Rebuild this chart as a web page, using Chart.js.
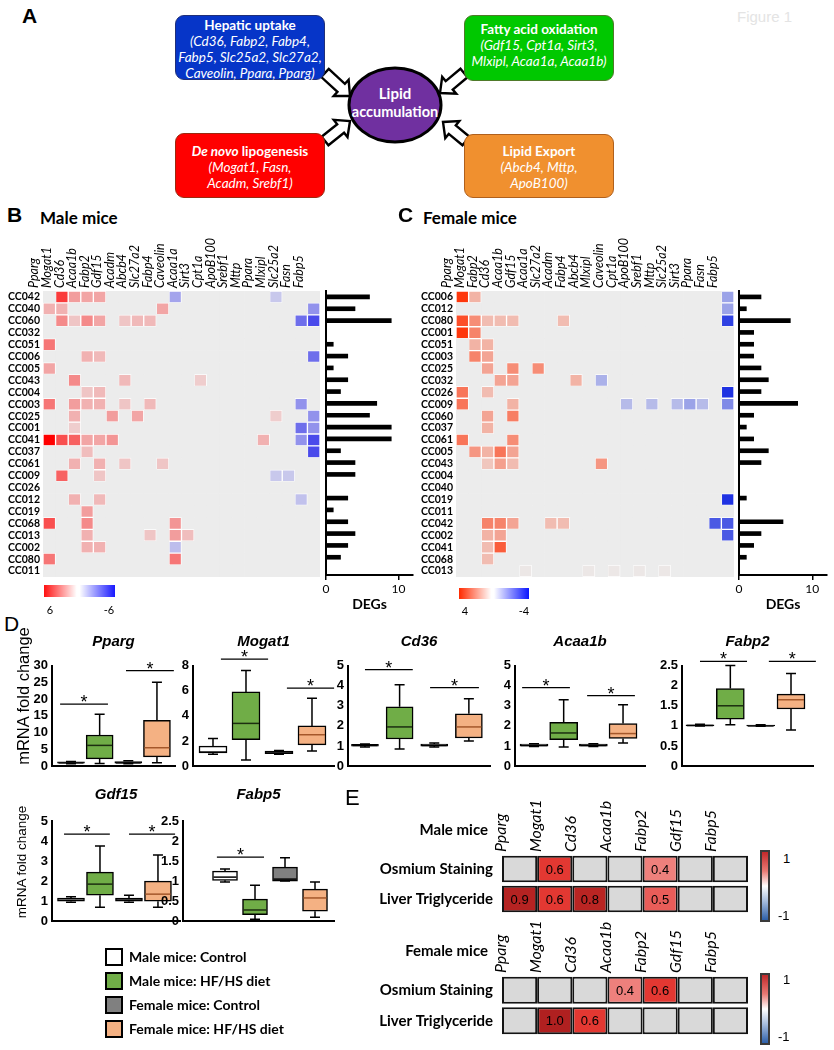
<!DOCTYPE html>
<html><head><meta charset="utf-8">
<script src="https://cdn.jsdelivr.net/npm/chart.js@4.4.1/dist/chart.umd.min.js"></script>
<style>
html,body{margin:0;padding:0;background:#fff;}
#fig{position:relative;width:834px;height:1050px;overflow:hidden;font-family:Lato,'Liberation Sans',sans-serif;color:#000;background:#fff;}
canvas{position:absolute;}
.t{position:absolute;white-space:nowrap;line-height:1;z-index:3;}
.box{position:absolute;border-radius:9px;color:#fff;text-align:center;box-sizing:border-box;font-size:13.5px;line-height:16px;font-family:Lato,sans-serif;z-index:2;}
.box i{font-style:italic;}
.cbar{position:absolute;box-sizing:border-box;z-index:2;}
.leg{position:absolute;width:18px;height:18px;box-sizing:border-box;border:2px solid #000;z-index:2;}
</style></head>
<body><div id="fig">
<svg id="diag" width="834" height="200" style="position:absolute;left:0;top:0;z-index:1"></svg>
</div>
<script>
// ---------------- DATA ----------------
const maleGenes = ['Pparg','Mogat1','Cd36','Acaa1b','Fabp2','Gdf15','Acadm','Abcb4','Slc27a2','Fabp4','Caveolin','Acaa1a','Sirt3','Cpt1a','ApoB100','Srebf1','Mttp','Ppara','Mlxipl','Slc25a2','Fasn','Fabp5'];
const maleRows = ['CC042','CC040','CC060','CC032','CC051','CC006','CC005','CC043','CC004','CC003','CC025','CC001','CC041','CC037','CC061','CC009','CC026','CC012','CC019','CC068','CC013','CC002','CC080','CC011'];
const maleValues = [
 [0,4.5,2,1.8,1.8,0,0,0,0,0,-2,0,0,0,0,0,0,0,-1,0,0,0],
 [1.5,1.5,0,0,0,0,0,0,0,1.8,0,0,0,0,0,0,0,0,0,0,0,-2.5],
 [0,2.5,1,2.5,1.8,0,1,1.3,1.3,0,0,0,0,0,0,0,0,0,0,0,-3.5,-4.5],
 [0,0,0,0,0,0,0,0,0,0,0,0,0,0,0,0,0,0,0,0,0,0],
 [3,0,0,0,0,0,0,0,0,0,0,0,0,0,0,0,0,0,0,0,0,0],
 [0,0,0,1.5,1.3,0,0,0,0,0,0,0,0,0,0,0,0,0,0,0,0,-3.5],
 [1.8,0,0,0,0,0,0,0,0,0,0,0,0,0,0,0,0,0,0,0,0,0],
 [0,0,2.5,0,0,0,1.3,0,0,0,0,0,0.8,0,0,0,0,0,0,0,0,0],
 [0,0,0,1,1.3,0,0,0,0,0,0,0,0,0,0,0,0,0,0,0,0,0],
 [3,0,2,1.5,1.5,0,1,0,1.3,0,0,0,0,0,0,0,0,0,0,0,-2.5,0],
 [0,0,1.5,0,0,2,0,1.8,0,0,0,0,0,0,0,0,0,0,0.8,0,0,-2.5],
 [0,0,0.8,0,0,0,0,0,0,0,0,0,0,0,0,0,0,0,0,0,-3.5,-2.5],
 [6,4,3.5,1.8,1.8,2.2,0,0,0,0,0,0,0,0,0,0,0,1.5,0,0,-2.5,-4.5],
 [0,0,0,1.2,0,0,0,0,0,0,0,0,0,0,0,0,0,0,0,0,0,-4.5],
 [0,0,1.5,0,1.5,0,1,0,0,1,0,0,0,0,0,0,0,0,0,0,0,0],
 [0,3.5,0,0,1,0,0,0,0,0,0,0,0,0,0,0,0,0,-1,-1,0,0],
 [0,0,0,0,0,0,0,0,0,0,0,0,0,0,0,0,0,0,0,0,0,0],
 [0,0,1.5,0,1.3,0,0,0,0,0,0,0,0,0,0,0,0,0,0,0,-1.2,0],
 [0,0,0,2,0,0,0,0,0,0,0,0,0,0,0,0,0,0,0,0,0,0],
 [4,0,0,2.5,0,0,0,0,0,0,2.2,0,0,0,0,0,0,0,0,0,0,0],
 [0,0,0,1.5,0,0,0,0,1,0,2,1.2,0,0,0,0,0,0,0,0,0,0],
 [0,0,0,1.5,1.5,0,0,0,0,0,-1.3,0,0,0,0,0,0,0,0,0,0,0],
 [3,0,0,0,0,0,0,0,0,0,3,0,0,0,0,0,0,0,0,0,0,0],
 [0,0,0,0,0,0,0,0,0,0,0,0,0,0,0,0,0,0,0,0,0,0]
];
const maleDEGs = [6,4,9,0,1,3,1,3,2,7,6,9,9,2,4,4,0,3,1,3,4,3,2,0];

const femaleGenes = ['Pparg','Mogat1','Fabp2','Cd36','Acaa1b','Gdf15','Acaa1a','Slc27a2','Acadm','Fabp4','Abcb4','Mlxipl','Caveolin','Cpt1a','ApoB100','Srebf1','Mttp','Slc25a2','Sirt3','Ppara','Fasn','Fabp5'];
const femaleRows = ['CC006','CC012','CC080','CC001','CC051','CC003','CC025','CC032','CC026','CC009','CC060','CC037','CC061','CC005','CC043','CC004','CC040','CC019','CC011','CC042','CC002','CC041','CC068','CC013'];
const femaleValues = [
 [3.8,1.2,0,0,0,0,0,0,0,0,0,0,0,0,0,0,0,0,0,0,0,-1.5],
 [0,0,0,0,0,0,0,0,0,0,0,0,0,0,0,0,0,0,0,0,0,-1.5],
 [3.3,2,1,1,1,0,0,0,1,0,0,0,0,0,0,0,0,0,0,0,0,-3.5],
 [3.8,2.2,0,0,0,0,0,0,0,0,0,0,0,0,0,0,0,0,0,0,0,0],
 [0,1.2,1.2,0,0,0,0,0,0,0,0,0,0,0,0,0,0,0,0,0,0,0],
 [0,2.2,1.5,0,0,0,0,0,0,0,0,0,0,0,0,0,0,0,0,0,0,0],
 [0,0,1.5,0,2,0,2,0,0,0,0,0,0,0,0,0,0,0,0,0,0,0],
 [0,0,0,1.5,1.5,0,0,0,0,1.2,0,-1.2,0,0,0,0,0,0,0,0,0,0],
 [2.5,0,1,0,0,0,0,0,0,0,0,0,0,0,0,0,0,0,0,0,0,-3.8],
 [2.5,0,0,0,1.2,0,0,0,0,0,0,0,0,-1,0,-1,0,-1,-1.5,-1,0,-2],
 [0,0,1.5,0,2.3,0,0,0,0,0,0,0,0,0,0,0,0,0,0,0,0,0],
 [0,0,1.2,0,0,0,0,0,0,0,0,0,0,0,0,0,0,0,0,0,0,0],
 [2.5,0,0,0,2,0,0,0,0,0,0,0,0,0,0,0,0,0,0,0,0,0],
 [0,1.8,1.2,2.5,1.5,0,0,0,0,0,0,0,0,0,0,0,0,0,0,0,0,0],
 [0,0,0.8,1.6,1,0,0,0,0,0,0,1.8,0,0,0,0,0,0,0,0,0,0],
 [0,0,0,0,0,0,0,0,0,0,0,0,0,0,0,0,0,0,0,0,0,0],
 [0,0,0,0,0,0,0,0,0,0,0,0,0,0,0,0,0,0,0,0,0,0],
 [0,0,0,0,0,0,0,0,0,0,0,0,0,0,0,0,0,0,0,0,0,-3.8],
 [0,0,0,0,0,0,0,0,0,0,0,0,0,0,0,0,0,0,0,0,0,0],
 [0,0,2.2,2.2,1.5,0,0,1,1,0,0,0,0,0,0,0,0,0,0,0,-3,-3],
 [0,0,1.2,1.5,0,0,0,0,0,0,0,0,0,0,0,0,0,0,0,0,0,-3],
 [0,0,1,3,0,0,0,0,0,0,0,0,0,0,0,0,0,0,0,0,0,0],
 [0,0,1,0,0,0,0,0,0,0,0,0,0,0,0,0,0,0,0,0,0,0],
 [0,0,0,0,0,0.1,0,0,0,0,0.1,0,0.1,0,0.1,0,0.1,0,0,0,0,0]
];
const femaleDEGs = [3,1,7,2,2,2,3,4,3,8,2,1,2,4,3,0,0,1,0,6,3,2,1,0];
const degTicks = [0,10];

// Panel D: [min, q1, median, q3, max] per group
const groupNames = ['Male mice: Control','Male mice: HF/HS diet','Female mice: Control','Female mice: HF/HS diet'];
const groupX = [1,2,3,4];
const ppargStats  = [[0.7,0.9,1.0,1.3,1.4],[0.8,2.2,6.2,9.3,15.5],[0.7,0.9,1.0,1.4,1.6],[1.0,2.8,5.5,13.7,25]];
const mogat1Stats = [[0.95,1.05,1.12,1.6,2.2],[0.5,2.1,3.4,5.9,7.6],[0.95,1.0,1.05,1.2,1.25],[1.2,1.7,2.5,3.2,5.4]];
const cd36Stats   = [[0.95,1.0,1.03,1.08,1.1],[0.85,1.35,1.95,2.95,4.05],[0.95,1.0,1.03,1.1,1.15],[1.25,1.4,1.95,2.6,3.35]];
const acaa1bStats = [[0.98,1.0,1.03,1.1,1.12],[0.95,1.32,1.65,2.18,3.3],[0.98,1.0,1.03,1.1,1.12],[1.15,1.38,1.62,2.12,3.05]];
const fabp2Stats  = [[1.0,1.0,1.01,1.03,1.04],[1.03,1.17,1.5,1.93,2.5],[0.99,1.0,1.0,1.02,1.03],[0.9,1.42,1.65,1.79,2.3]];
const gdf15Stats  = [[0.95,1.0,1.05,1.15,1.22],[0.7,1.3,1.85,2.45,3.75],[0.95,1.0,1.05,1.15,1.3],[0.7,1.0,1.35,2.0,3.3]];
const fabp5Stats  = [[0.98,1.02,1.1,1.25,1.3],[0.05,0.16,0.28,0.55,0.9],[1.0,1.0,1.05,1.35,1.58],[0.1,0.25,0.58,0.8,0.98]];
// y tick labels
const ppargTicks = [0,5,10,15,20,25,30];
const mogat1Ticks = [0,2,4,6,8];
const fiveTicks = [0,1,2,3,4,5];
const halfTicks = [0,0.5,1,1.5,2,2.5];
// significance bars: [fromX, toX, y]
const ppargSig  = [[0.62,2.29,18.5],[2.92,4.59,28.5]];
const mogat1Sig = [[1.24,2.67,8.5],[3.24,4.67,6.2]];
const cd36Sig   = [[1.0,2.38,4.8],[2.88,4.29,3.9]];
const acaa1bSig = [[0.6,2.21,3.9],[2.79,4.4,3.5]];
const fabp2Sig  = [[1.0,2.55,2.6],[3.27,4.82,2.6]];
const gdf15Sig  = [[0.76,2.34,4.35],[3.0,4.59,4.35]];
const fabp5Sig  = [[0.73,2.3,1.6]];

// Panel E
const corrGenes = ['Pparg','Mogat1','Cd36','Acaa1b','Fabp2','Gdf15','Fabp5'];
const corrRows = ['Osmium Staining','Liver Triglyceride'];
const maleCorr = [[null,0.6,null,null,0.4,null,null],[0.9,0.6,0.8,null,0.5,null,null]];
const femaleCorr = [[null,null,null,0.4,0.6,null,null],[null,1.0,0.6,null,null,null,null]];

// ---------------- STYLE HELPERS ----------------
Chart.defaults.font.family = "Lato, 'Liberation Sans', sans-serif";
Chart.defaults.color = '#000';
const fig = document.getElementById('fig');
const groupColors = ['#ffffff','#70ad47','#808080','#f4b183'];
const medianColors = ['#000','#1c2e10','#000','#a4572a'];
function mk(left, top, w, h){const c=document.createElement('canvas');c.width=w;c.height=h;c.style.left=left+'px';c.style.top=top+'px';c.style.width=w+'px';c.style.height=h+'px';fig.appendChild(c);return c;}
function txt(s, x, y, css, anchor){const d=document.createElement('div');d.className='t';d.innerHTML=s;d.style.left=x+'px';d.style.top=y+'px';const tx=anchor==='c'?'-50%':anchor==='r'?'-100%':'0';d.style.transform='translate('+tx+',-50%)';d.style.cssText+=';'+css;fig.appendChild(d);return d;}
function mix(a,b,t){return 'rgb('+a.map((v,i)=>Math.round(v+(b[i]-v)*t)).join(',')+')';}
function heatColor(v,vmax,pos,neg){ if(!v) return '#ececec'; const t=Math.min(Math.abs(v)/vmax,1); return mix([236,236,236], v>0?pos:neg, t); }
const corrStops=[[0,[255,255,255]],[0.45,[236,112,108]],[0.6,[227,56,50]],[0.8,[186,37,35]],[1,[176,32,32]]];
function corrColor(v){ if(v===null) return '#d9d9d9'; for(let k=1;k<corrStops.length;k++){ if(v<=corrStops[k][0]){const a=corrStops[k-1],b=corrStops[k];return mix(a[1],b[1],(v-a[0])/(b[0]-a[0]));}} return mix(corrStops[4][1],corrStops[4][1],0); }
const baseOpts = {responsive:false, animation:false, devicePixelRatio:1};

// ---------------- PANEL A (diagram) ----------------
(function(){
  const svg = document.getElementById('diag');
  function arrow(tx,ty,hx,hy){const ang=Math.atan2(hy-ty,hx-tx)*180/Math.PI;const L=Math.hypot(hx-tx,hy-ty);const hl=12,hw=11,sw=5.5;
    const p=[[0,-sw],[L-hl,-sw],[L-hl,-hw],[L,0],[L-hl,hw],[L-hl,sw],[0,sw]].map(q=>q.join(',')).join(' ');
    return '<polygon points="'+p+'" transform="translate('+tx+','+ty+') rotate('+ang+')" fill="#fff" stroke="#000" stroke-width="2.4" stroke-linejoin="miter"/>';}
  svg.innerHTML = '<ellipse cx="395" cy="105" rx="46" ry="37" fill="#7030a0" stroke="#000" stroke-width="3"/>' +
    arrow(325,73,350,96)+arrow(325,141,350,121)+arrow(464,73,440,93)+arrow(466,141,443,122);
  const boxes = [
    [175,15,150,65,'#0635c8','#20307a',1,'<b>Hepatic uptake</b><br><i>(Cd36, Fabp2, Fabp4,<br>Fabp5, Slc25a2, Slc27a2,<br>Caveolin, Ppara, Pparg)</i>'],
    [464,15,150,66,'#00c800','#4f7a2a',5,'<b>Fatty acid oxidation</b><br><i>(Gdf15, Cpt1a, Sirt3,<br>Mlxipl, Acaa1a, Acaa1b)</i>'],
    [175,133,150,65,'#ff0000','#9a2a10',9,'<b><i>De novo</i> lipogenesis</b><br><i>(Mogat1, Fasn,<br>Acadm, Srebf1)</i>'],
    [464,134,150,64,'#f0902f','#b0601c',8,'<b>Lipid Export</b><br><i>(Abcb4, Mttp,<br>ApoB100)</i>']
  ];
  boxes.forEach(b=>{const d=document.createElement('div');d.className='box';d.style.left=b[0]+'px';d.style.top=b[1]+'px';d.style.width=b[2]+'px';d.style.height=b[3]+'px';d.style.background=b[4];d.style.border='1.5px solid '+b[5];d.style.paddingTop=b[6]+'px';d.innerHTML=b[7];fig.appendChild(d);});
  txt('Lipid',395,93,'color:#fff;font-weight:bold;font-size:15px;','c');
  txt('accumulation',395,112,'color:#fff;font-weight:bold;font-size:14.5px;','c');
  txt('Figure 1',737,16,'color:#e4e4e4;font-size:15px;font-family:Liberation Sans;','l');
})();

// panel letters & titles
txt('A',22,15,'font-family:Liberation Sans;font-weight:bold;font-size:21px;','l');
txt('B',7,214,'font-family:Liberation Sans;font-weight:bold;font-size:21px;','l');
txt('C',398,214,'font-family:Liberation Sans;font-weight:bold;font-size:21px;','l');
txt('D',4,623,'font-family:Liberation Sans;font-size:21px;','l');
txt('E',345,798,'font-family:Liberation Sans;font-size:22px;','l');
txt('Male mice',40,217,'font-weight:bold;font-size:17px;','l');
txt('Female mice',423,217,'font-weight:bold;font-size:17px;','l');

// ---------------- PANELS B & C (heatmaps) ----------------
function heatmap(canvas, rows, genes, values, vmax, pos, neg, yW, topH){
  return new Chart(canvas, {type:'bar',
    data:{labels:rows, datasets: genes.map((g,j)=>({label:g, xAxisID:'x', yAxisID:'y',
      data: rows.map(()=>[j,j+1]),
      backgroundColor: values.map(r=>heatColor(r[j],vmax,pos,neg)),
      borderColor:'rgba(255,255,255,0.6)', borderWidth: values.map(r=>r[j]?1:0), borderSkipped:false,
      grouped:false, barPercentage:1, categoryPercentage:1}))},
    options:Object.assign({}, baseOpts, {indexAxis:'y', layout:{padding:{top:0,right:4,bottom:10,left:0}},
      plugins:{legend:{display:false},tooltip:{enabled:false}},
      scales:{
        x:{type:'linear',min:0,max:genes.length,display:false},
        xTop:{type:'category',labels:genes,position:'top',offset:true,grid:{display:false,drawTicks:false},border:{display:false},
          ticks:{autoSkip:false,minRotation:90,maxRotation:90,padding:3,color:'#000',font:{size:12.5,style:'italic'}},
          afterFit:s=>{s.height=topH;}},
        y:{type:'category',offset:true,grid:{display:false,drawTicks:false},border:{display:false},
          ticks:{autoSkip:false,padding:3,color:'#000',font:{size:10.5,weight:'bold'}},
          afterFit:s=>{s.width=yW;}}
      }})
  });
}
heatmap(mk(0,230,324,357), maleRows, maleGenes, maleValues, 6, [255,0,0], [20,20,235], 43, 61);
heatmap(mk(418,230,320,357), femaleRows, femaleGenes, femaleValues, 4, [255,45,0], [20,40,225], 38, 61);

function degChart(canvas, rows, vals, yW){
  return new Chart(canvas, {type:'bar',
    data:{labels:rows, datasets:[{data:vals, backgroundColor:'#000', barThickness:4, xAxisID:'x', yAxisID:'y'}]},
    options:Object.assign({}, baseOpts, {indexAxis:'y', layout:{padding:{top:8,right:3,bottom:2,left:0}},
      plugins:{legend:{display:false},tooltip:{enabled:false}},
      scales:{
        x:{type:'linear',min:0,max:12,afterBuildTicks:s=>{s.ticks=degTicks.map(v=>({value:v}));},
          grid:{display:true,drawOnChartArea:false,drawTicks:true,tickLength:5,color:'#000',lineWidth:1.5},
          border:{display:true,color:'#000',width:2},
          ticks:{padding:2,color:'#000',font:{size:12}},
          title:{display:true,text:'DEGs',color:'#000',font:{size:14,weight:'bold'},padding:0},
          afterFit:s=>{s.height=38;}},
        y:{type:'category',offset:true,grid:{display:false},ticks:{display:false},border:{display:true,color:'#000',width:2},afterFit:s=>{s.width=yW;}}
      }})
  });
}
degChart(mk(318,283,98,332), maleRows, maleDEGs, 8);
degChart(mk(731,283,99,332), femaleRows, femaleDEGs, 8);

// colorbars B/C
(function(){
  const a=document.createElement('div');a.className='cbar';a.style.cssText+='left:44px;top:585px;width:71px;height:12px;background:linear-gradient(to right,#ff1010 0%,#ffffff 46%,#ffffff 50%,#1818ff 100%);';fig.appendChild(a);
  const b=document.createElement('div');b.className='cbar';b.style.cssText+='left:459px;top:588px;width:70px;height:11px;background:linear-gradient(to right,#ff2a00 0%,#ffffff 46%,#ffffff 50%,#0a14ff 100%);';fig.appendChild(b);
})();
txt('6',50,609,'font-size:11px;','c'); txt('-6',109,609,'font-size:11px;','c');
txt('4',465,610,'font-size:11px;','c'); txt('-4',524,610,'font-size:11px;','c');

// ---------------- PANEL D (box plots) ----------------
const boxPlugin = {id:'boxExtras', afterDatasetsDraw(chart, args, opts){
  const {ctx, scales:{x,y}} = chart; const bw = opts.bw;
  ctx.save(); ctx.lineWidth=1.5;
  opts.stats.forEach((s,i)=>{
    const px = x.getPixelForValue(groupX[i]);
    ctx.strokeStyle='#000';
    ctx.beginPath();
    ctx.moveTo(px,y.getPixelForValue(s[3])); ctx.lineTo(px,y.getPixelForValue(s[4]));
    ctx.moveTo(px-5,y.getPixelForValue(s[4])); ctx.lineTo(px+5,y.getPixelForValue(s[4]));
    ctx.moveTo(px,y.getPixelForValue(s[1])); ctx.lineTo(px,y.getPixelForValue(s[0]));
    ctx.moveTo(px-5,y.getPixelForValue(s[0])); ctx.lineTo(px+5,y.getPixelForValue(s[0]));
    ctx.stroke();
    ctx.strokeStyle=medianColors[i];
    ctx.beginPath(); ctx.moveTo(px-bw/2+1,y.getPixelForValue(s[2])); ctx.lineTo(px+bw/2-1,y.getPixelForValue(s[2])); ctx.stroke();
  });
  ctx.strokeStyle='#000'; ctx.lineWidth=1.2; ctx.fillStyle='#000';
  ctx.font='18px "Liberation Sans"'; ctx.textAlign='center'; ctx.textBaseline='alphabetic';
  opts.sig.forEach(g=>{
    const yy=y.getPixelForValue(g[2]);
    ctx.beginPath(); ctx.moveTo(x.getPixelForValue(g[0]),yy); ctx.lineTo(x.getPixelForValue(g[1]),yy); ctx.stroke();
    ctx.fillText('*',(x.getPixelForValue(g[0])+x.getPixelForValue(g[1]))/2,yy+4);
  });
  ctx.restore();
}};
function boxChart(o){
  const top = o.row===1?626:779; const bottom = o.row===1?768:923;
  const left = o.axisX-30; const padR = o.padR||4;
  const canvas = mk(left, top, o.right-left+padR, bottom+10-top);
  const pt=7, pb = o.row===1?14.5:17;
  const ymax = o.ticks[o.ticks.length-1];
  return new Chart(canvas, {type:'bar',
    data:{datasets:[{data:o.stats.map((s,i)=>({x:groupX[i],y:[s[1],s[3]]})), backgroundColor:groupColors, borderColor:'#000', borderWidth:1.5, borderSkipped:false, barThickness:o.bw}]},
    options:Object.assign({}, baseOpts, {layout:{padding:{left:0,right:padR,top:0,bottom:0}},
      plugins:{legend:{display:false},tooltip:{enabled:false},
        title:{display:true,text:o.title,fullSize:false,color:'#000',font:{family:'Liberation Sans',size:15,weight:'bold',style:'italic'},padding:{top:pt,bottom:pb}},
        boxExtras:{stats:o.stats,sig:o.sig,bw:o.bw}},
      scales:{
        x:{type:'linear',offset:false,min:o.xmin,max:o.xmax,ticks:{display:false},grid:{display:false,drawTicks:false},border:{display:true,color:'#000',width:2},afterFit:s=>{s.height=10;}},
        y:{type:'linear',min:0,max:ymax,afterBuildTicks:s=>{s.ticks=o.ticks.map(v=>({value:v}));},
          ticks:{autoSkip:false,color:'#000',padding:4,font:{family:'Liberation Sans',size:13,weight:'bold'},callback:v=>String(v)},
          grid:{display:false,drawTicks:false},border:{display:true,color:'#000',width:2},afterFit:s=>{s.width=30;}}
      }}),
    plugins:[boxPlugin]});
}
boxChart({title:'Pparg',row:1,axisX:52,right:175,xmin:0.337,xmax:4.63,ticks:ppargTicks,stats:ppargStats,sig:ppargSig,bw:27});
boxChart({title:'Mogat1',row:1,axisX:193,right:334,xmin:0.394,xmax:4.667,ticks:mogat1Ticks,stats:mogat1Stats,sig:mogat1Sig,bw:28});
boxChart({title:'Cd36',row:1,axisX:348,right:490,xmin:0.51,xmax:4.61,ticks:fiveTicks,stats:cd36Stats,sig:cd36Sig,bw:27});
boxChart({title:'Acaa1b',row:1,axisX:515,right:645,xmin:0.36,xmax:4.74,ticks:fiveTicks,stats:acaa1bStats,sig:acaa1bSig,bw:28});
boxChart({title:'Fabp2',row:1,axisX:682,right:813,xmin:0.407,xmax:4.725,ticks:halfTicks,stats:fabp2Stats,sig:fabp2Sig,bw:28,padR:6});
boxChart({title:'Gdf15',row:2,axisX:52,right:180,xmin:0.345,xmax:4.76,ticks:fiveTicks,stats:gdf15Stats,sig:gdf15Sig,bw:27});
boxChart({title:'Fabp5',row:2,axisX:183,right:334,xmin:-0.4,xmax:4.633,ticks:halfTicks,stats:fabp5Stats,sig:fabp5Sig,bw:25});

(function(){
  const a=txt('mRNA fold change',23,696,'font-family:Liberation Sans;font-size:16.5px;','l');
  a.style.transform='translate(-50%,-50%) rotate(-90deg)';
  const b=txt('mRNA fold change',22,862,'font-family:Liberation Sans;font-size:13.5px;','l');
  b.style.transform='translate(-50%,-50%) rotate(-90deg)';
})();

// legend
groupNames.forEach((n,i)=>{
  const cy=[957,981,1005,1029][i];
  const s=document.createElement('div');s.className='leg';s.style.left='105px';s.style.top=(cy-9)+'px';s.style.background=groupColors[i];fig.appendChild(s);
  txt(n,129,cy,'font-weight:bold;font-size:14px;','l');
});

// ---------------- PANEL E ----------------
const cellText = {id:'cellText', afterDatasetsDraw(chart, args, opts){
  const {ctx, scales:{x,y}} = chart; ctx.save();
  ctx.font='13px "Liberation Sans"'; ctx.fillStyle='#000'; ctx.textAlign='center'; ctx.textBaseline='middle';
  opts.vals.forEach((r,i)=>r.forEach((v,j)=>{ if(v!==null) ctx.fillText(v.toFixed(1), x.getPixelForValue(j+0.5), y.getPixelForValue(i)+1); }));
  ctx.restore();
}};
function corrChart(canvas, vals, topH){
  return new Chart(canvas, {type:'bar',
    data:{labels:corrRows, datasets: corrGenes.map((g,j)=>({label:g, xAxisID:'x', yAxisID:'y',
      data: corrRows.map(()=>[j,j+1]), backgroundColor: vals.map(r=>corrColor(r[j])),
      borderColor:'#141414', borderWidth:2, borderSkipped:false, grouped:false, barPercentage:1, categoryPercentage:0.88}))},
    options:Object.assign({}, baseOpts, {indexAxis:'y', layout:{padding:{top:0,right:4,bottom:10,left:0}},
      plugins:{legend:{display:false},tooltip:{enabled:false},cellText:{vals}},
      scales:{
        x:{type:'linear',min:0,max:7,display:false},
        xTop:{type:'category',labels:corrGenes,position:'top',offset:true,grid:{display:false,drawTicks:false},border:{display:false},
          ticks:{autoSkip:false,minRotation:90,maxRotation:90,padding:2,color:'#000',font:{size:16,style:'italic'}},
          afterFit:s=>{s.height=topH;}},
        y:{type:'category',offset:true,grid:{display:false,drawTicks:false},border:{display:false},
          ticks:{padding:9,color:'#000',font:{size:15,weight:'bold'}},afterFit:s=>{s.width=142;}}
      }}),
    plugins:[cellText]});
}
corrChart(mk(360,795,392,137), maleCorr, 59);
corrChart(mk(360,918,392,136), femaleCorr, 57);
txt('Male mice',488,829,'font-weight:bold;font-size:15px;','r');
txt('Female mice',488,950,'font-weight:bold;font-size:15px;','r');
(function(){
  [850,973].forEach(t=>{const d=document.createElement('div');d.className='cbar';d.style.cssText+='left:760px;top:'+t+'px;width:10px;height:72px;border:2px solid #3a3a3a;background:linear-gradient(to bottom,#c0282a 0%,#e87a74 28%,#ffffff 50%,#a8bede 72%,#2d5fa8 100%);';fig.appendChild(d);});
})();
txt('1',783,858,'font-size:13px;font-family:Liberation Sans;','l'); txt('-1',778,915,'font-size:13px;font-family:Liberation Sans;','l');
txt('1',783,979,'font-size:13px;font-family:Liberation Sans;','l'); txt('-1',778,1036,'font-size:13px;font-family:Liberation Sans;','l');
</script>
</body></html>
